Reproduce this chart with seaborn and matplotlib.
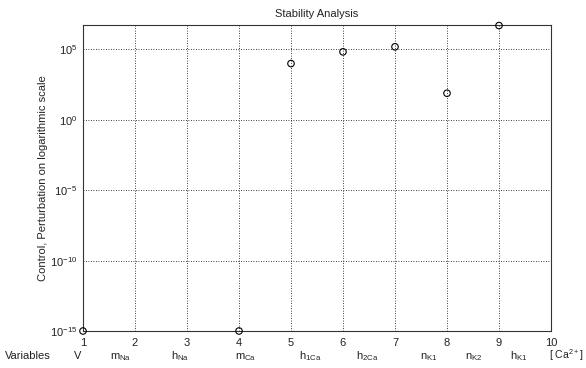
import matplotlib
matplotlib.use("Agg")
import matplotlib.pyplot as plt
import seaborn as sns
import pandas as pd
import numpy as np

variables = [1, 4, 5, 6, 7, 8, 9]
perturbation = [1e-15, 1e-15, 1.0e4, 6.8e4, 1.55e5, 78.0, 5.0e6]
x_ticks = [1, 2, 3, 4, 5, 6, 7, 8, 9, 10]
y_ticks = [1e-15, 1e-10, 1e-5, 1e0, 1e5]
y_tick_labels = [r"$10^{-15}$", r"$10^{-10}$", r"$10^{-5}$", r"$10^{0}$", r"$10^{5}$"]
var_names = ["V", r"m$_{\rm Na}$", r"h$_{\rm Na}$", r"m$_{\rm Ca}$", r"h$_{\rm 1Ca}$",
             r"h$_{\rm 2Ca}$", r"n$_{\rm K1}$", r"n$_{\rm K2}$", r"h$_{\rm K1}$"]
var_pos = [0.9, 1.73, 2.87, 4.13, 5.37, 6.46, 7.65, 8.52, 9.38]
extra_name = r"[ Ca$^{2+}$]"

sns.set_style("white")
plt.rcParams['font.family'] = ['Liberation Sans', 'DejaVu Sans']
plt.rcParams['mathtext.fontset'] = 'custom'
plt.rcParams['mathtext.rm'] = 'Liberation Sans'
plt.rcParams['mathtext.it'] = 'Liberation Sans'

df = pd.DataFrame({"var": variables, "val": perturbation})

fig = plt.figure(figsize=(5.86, 3.68), dpi=100)
ax = fig.add_axes([83/586, 1-331/368, (551-83)/586, (331-25)/368])
sns.scatterplot(data=df, x="var", y="val", ax=ax, marker="o", s=22,
                facecolor="none", edgecolor="black", linewidth=0.8, clip_on=False, zorder=5)
ax.set_yscale("log")
ax.set_xlim(1, 10)
ax.set_ylim(1e-15, 10**6.74)
ax.set_xticks(x_ticks)
ax.set_xticklabels([str(t) for t in x_ticks], fontsize=8)
ax.set_yticks(y_ticks)
ax.set_yticklabels(y_tick_labels, fontsize=8)
ax.yaxis.set_minor_locator(matplotlib.ticker.NullLocator())
ax.tick_params(direction="in", length=3, width=0.8, colors="black", labelcolor="#222222")
ax.tick_params(axis="x", pad=5)
ax.tick_params(axis="y", pad=4)
ax.grid(True, linestyle=(0, (1, 2)), color="black", linewidth=0.6)
for s in ax.spines.values():
    s.set_color("#333333")
    s.set_linewidth(0.8)
ax.set_xlabel("")
ax.set_ylabel("Control, Perturbation on logarithmic scale", fontsize=8, color="#222222")
ax.yaxis.set_label_coords((48-83)/468, 0.5)
ax.set_title("Stability Analysis", fontsize=8, color="#222222", pad=6)

trans = matplotlib.transforms.blended_transform_factory(ax.transData, fig.transFigure)
base = 1-359/368
fig.text(28/586, base, "Variables", fontsize=8, ha="center", va="baseline", color="#222222")
for p, n in zip(var_pos, var_names):
    ax.text(p, base, n, transform=trans, fontsize=8, ha="center", va="baseline", color="#222222")
fig.text(583/586, base, extra_name, fontsize=7.5, ha="right", va="baseline", color="#222222")

fig.savefig("out.png", dpi=100, facecolor="white")
